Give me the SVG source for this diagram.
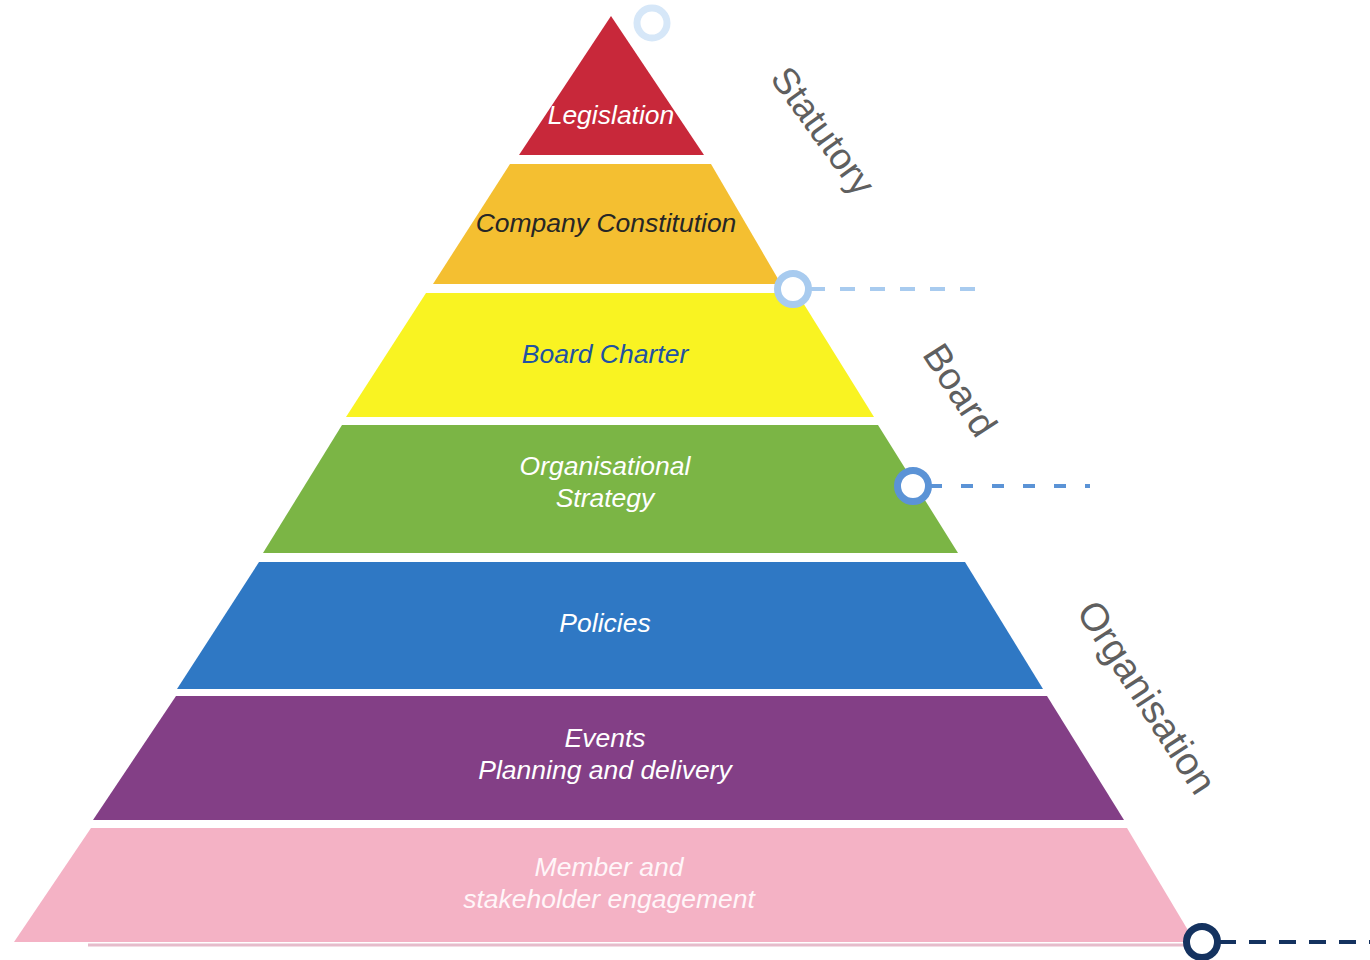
<svg xmlns="http://www.w3.org/2000/svg" width="1370" height="960" viewBox="0 0 1370 960">
  <style>
    .lbl { font-family: "Liberation Sans", Arial, sans-serif; font-style: italic; font-size: 26.5px; text-anchor: middle; }
    .side { font-family: "Liberation Sans", Arial, sans-serif; font-size: 37px; fill: #5f5f5f; text-anchor: middle; dominant-baseline: central; }
    .ring { fill: #ffffff; stroke-width: 7; }
    .dash { fill: none; stroke-width: 4; }
  </style>
  <rect width="1370" height="960" fill="#ffffff"/>

  <g id="layer-legislation">
    <polygon points="611,16 704,155 519,155" fill="#C8283A"/>
    <text class="lbl" x="611" y="124" fill="#ffffff">Legislation</text>
  </g>
  <g id="layer-constitution">
    <polygon points="510,164 711,164 781,284 433,284" fill="#F4BF31"/>
    <text class="lbl" x="606" y="232" fill="#262626">Company Constitution</text>
  </g>
  <g id="layer-board-charter">
    <polygon points="426,293 797,293 874,417 346,417" fill="#F9F322"/>
    <text class="lbl" x="605" y="363" fill="#2152A3">Board Charter</text>
  </g>
  <g id="layer-strategy">
    <polygon points="342,425 878,425 958,553 263,553" fill="#7BB545"/>
    <text class="lbl" x="605" y="475" fill="#ffffff">Organisational</text>
    <text class="lbl" x="605" y="507" fill="#ffffff">Strategy</text>
  </g>
  <g id="layer-policies">
    <polygon points="259,562 965,562 1043,689 177,689" fill="#2F78C4"/>
    <text class="lbl" x="605" y="632" fill="#ffffff">Policies</text>
  </g>
  <g id="layer-events">
    <polygon points="176,696 1047,696 1124,820 93,820" fill="#833F86"/>
    <text class="lbl" x="605" y="747" fill="#ffffff">Events</text>
    <text class="lbl" x="605" y="779" fill="#ffffff">Planning and delivery</text>
  </g>
  <g id="layer-engagement">
    <line x1="88" y1="945" x2="1190" y2="945" stroke="#E6BCCB" stroke-width="3"/>
    <polygon points="91,828 1127,828 1195,942 14,942" fill="#F4B2C5"/>
    <text class="lbl" x="609" y="876" fill="#FFF6F9">Member and</text>
    <text class="lbl" x="609" y="908" fill="#FFF6F9">stakeholder engagement</text>
  </g>

  <g id="label-statutory">
    <text class="side" transform="translate(823,131) rotate(54)">Statutory</text>
  </g>
  <g id="label-board">
    <text class="side" transform="translate(960,390) rotate(57)" style="font-size:38px">Board</text>
  </g>
  <g id="label-organisation">
    <text class="side" transform="translate(1147,697) rotate(57)" style="font-size:39px">Organisation</text>
  </g>

  <g id="connectors">
    <line class="dash" x1="810" y1="289" x2="980" y2="289" stroke="#A8CBEF" stroke-dasharray="15 15"/>
    <line class="dash" x1="930" y1="486" x2="1090" y2="486" stroke="#5B93D6" stroke-dasharray="12 19"/>
    <line class="dash" x1="1219" y1="942" x2="1370" y2="942" stroke="#14325F" stroke-dasharray="17 13"/>
    <circle class="ring" cx="652" cy="23" r="15" stroke="#D6E7F8"/>
    <circle class="ring" cx="793" cy="289" r="15.5" stroke="#A8CBEF"/>
    <circle class="ring" cx="913" cy="486" r="15.5" stroke="#5B93D6"/>
    <circle class="ring" cx="1202" cy="942" r="15.5" stroke="#14325F"/>
  </g>
</svg>
